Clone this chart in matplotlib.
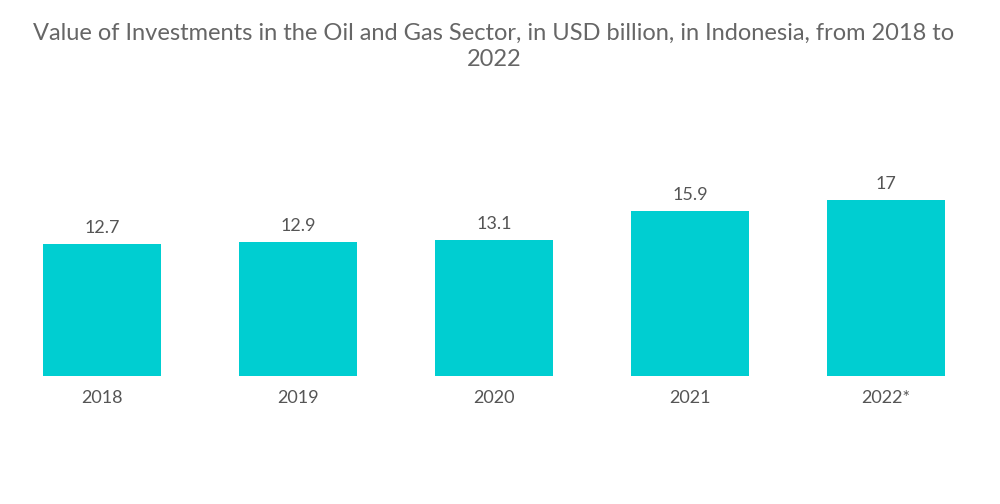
import matplotlib.pyplot as plt

years = ["2018", "2019", "2020", "2021", "2022*"]
values = [12.7, 12.9, 13.1, 15.9, 17]

BAR_COLOR = "#00CED1"
TEXT_COLOR = "#555555"

plt.rcParams["font.family"] = ["Lato", "DejaVu Sans"]

fig = plt.figure(figsize=(10, 5.04), dpi=100)
ax = fig.add_axes([0.004, 0.254, 0.98, 0.448])

x = range(len(years))
bars = ax.bar(x, values, width=0.6, color=BAR_COLOR)
ax.set_xlim(-0.5, len(years) - 0.5)
ax.set_ylim(0, 21.8)

for b, v in zip(bars, values):
    ax.annotate(f"{v:g}", (b.get_x() + b.get_width() / 2, v),
                xytext=(0, 6), textcoords="offset points",
                ha="center", va="bottom", fontsize=13, color=TEXT_COLOR)

ax.set_xticks(list(x))
ax.set_xticklabels(years, fontsize=13, color=TEXT_COLOR)
ax.tick_params(axis="x", length=0, pad=10)
ax.set_yticks([])
for s in ax.spines.values():
    s.set_visible(False)

fig.text(0.494, 0.907,
         "Value of Investments in the Oil and Gas Sector, in USD billion, in Indonesia, from 2018 to\n2022",
         ha="center", va="center", fontsize=17, color="#666666", linespacing=1.3)

fig.savefig("out.png", dpi=100)
